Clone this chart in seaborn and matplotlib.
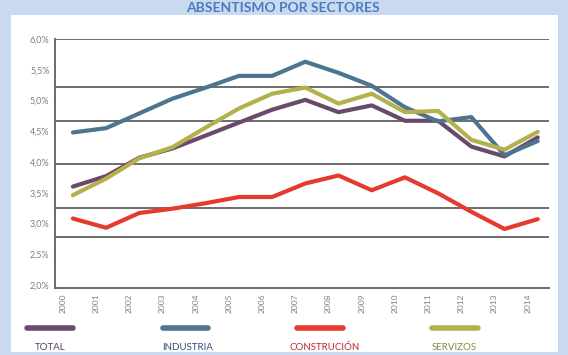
import matplotlib
matplotlib.use("Agg")
import matplotlib.pyplot as plt
import matplotlib.transforms as mtransforms
from matplotlib.patches import Rectangle
from matplotlib.lines import Line2D
import seaborn as sns
import pandas as pd

years = list(range(2000, 2015))
total = [3.60, 3.77, 4.07, 4.22, 4.43, 4.64, 4.85, 5.01, 4.81, 4.92, 4.67, 4.67, 4.25, 4.09, 4.40]
industria = [4.48, 4.55, 4.79, 5.03, 5.21, 5.40, 5.40, 5.63, 5.45, 5.24, 4.89, 4.66, 4.73, 4.11, 4.34]
construcion = [3.08, 2.93, 3.17, 3.24, 3.33, 3.43, 3.43, 3.65, 3.78, 3.54, 3.75, 3.49, 3.19, 2.91, 3.07]
servizos = [3.46, 3.73, 4.06, 4.24, 4.56, 4.87, 5.11, 5.21, 4.95, 5.11, 4.81, 4.83, 4.36, 4.20, 4.49]

sectors = ["TOTAL", "INDUSTRIA", "CONSTRUCIÓN", "SERVIZOS"]
line_colors = ["#6a4a6c", "#4d7590", "#e53a2e", "#b4b04c"]
text_colors = ["#5a3d6a", "#2f5079", "#c0262c", "#7c8c3c"]
y_ticks = [2.0, 2.5, 3.0, 3.5, 4.0, 4.5, 5.0, 5.5, 6.0]
grid_levels = [6.0, 5.22, 4.66, 3.96, 3.25, 2.78]
title = "ABSENTISMO POR SECTORES"

df = pd.DataFrame({
    "year": years * 4,
    "idx": list(range(len(years))) * 4,
    "value": total + industria + construcion + servizos,
    "sector": [s for s in sectors for _ in years],
})

sns.set_theme(style="white")
plt.rcParams["font.family"] = ["Lato", "DejaVu Sans"]

fig = plt.figure(figsize=(5.68, 3.55), dpi=100)
fig.patch.set_facecolor("#c9daf0")
fig.patches.append(Rectangle((11 / 568, 3 / 355), 547 / 568, 337 / 355,
                             transform=fig.transFigure, facecolor="white",
                             edgecolor="none", zorder=0))

ax = fig.add_axes([55 / 568, 1 - 288 / 355, 494 / 568, 249 / 355])
ax.set_facecolor("none")
ax.set_zorder(5)

for g in grid_levels:
    ax.axhline(g, color="#6b6b6b", lw=1.4, zorder=1)

palette = dict(zip(sectors, line_colors))
sns.lineplot(data=df, x="idx", y="value", hue="sector", palette=palette,
             hue_order=sectors, lw=3, ax=ax, legend=False, zorder=3)

ax.set_xlim(-0.54, 14.34)
ax.set_ylim(1.95, 6.0)
ax.set_xlabel("")
ax.set_ylabel("")
ax.set_yticks(y_ticks)
ax.set_yticklabels([f"{v:.1f}".replace(".", ",") + "%" for v in y_ticks],
                   fontsize=6.5, color="#808080")
ax.set_xticks(range(len(years)))
ax.set_xticklabels([str(y) for y in years], rotation=90, fontsize=6,
                   color="#808080", va="top")
ax.tick_params(length=0, pad=4)
offset = mtransforms.ScaledTranslation(-10 / 100, 0, fig.dpi_scale_trans)
for lab in ax.get_xticklabels():
    lab.set_transform(lab.get_transform() + offset)

for side in ["top", "right"]:
    ax.spines[side].set_visible(False)
for side in ["left", "bottom"]:
    ax.spines[side].set_color("#6b6b6b")
    ax.spines[side].set_linewidth(1.4)

fig.text(283 / 568, 1 - 8 / 355, title, ha="center", va="center",
         fontsize=10, fontweight="bold", color="#4a7bbf")

sw_x = [(27, 73), (163, 208), (297, 343), (432, 478)]
lab_x = [35, 162, 290, 432]
for (x0, x1), lx, s, lc, tc in zip(sw_x, lab_x, sectors, line_colors, text_colors):
    fig.add_artist(Line2D([x0 / 568, x1 / 568], [1 - 328 / 355] * 2,
                          transform=fig.transFigure, color=lc, lw=4,
                          solid_capstyle="round"))
    fig.text(lx / 568, 1 - 347 / 355, s, ha="left", va="center",
             fontsize=7, color=tc)

fig.savefig("out.png", dpi=100, facecolor=fig.get_facecolor())
